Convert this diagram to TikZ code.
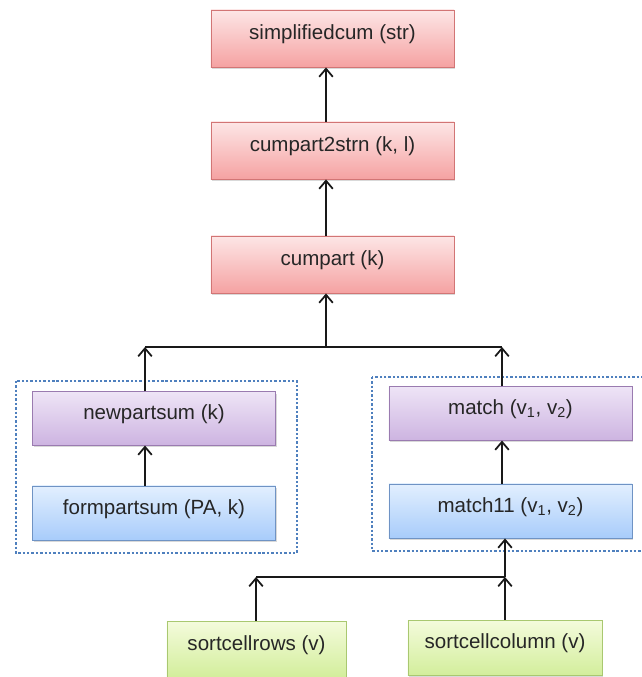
\documentclass[tikz,border=0pt]{standalone}
\usepackage{fontspec}
\setmainfont{Liberation Sans}
\usetikzlibrary{arrows.meta,shadows}
\definecolor{redtop}{HTML}{FDE6E6}
\definecolor{redbot}{HTML}{F5A2A2}
\definecolor{redline}{HTML}{D27575}
\definecolor{purtop}{HTML}{EEE4F6}
\definecolor{purbot}{HTML}{CDB4E1}
\definecolor{purline}{HTML}{9A7BB0}
\definecolor{blutop}{HTML}{E2EFFE}
\definecolor{blubot}{HTML}{A8CCFB}
\definecolor{bluline}{HTML}{6F93C4}
\definecolor{grntop}{HTML}{F4FBDC}
\definecolor{grnbot}{HTML}{D3EE9C}
\definecolor{grnline}{HTML}{A9C870}
\definecolor{dotblue}{HTML}{4F80BE}
\begin{document}
\begin{tikzpicture}[x=0.025cm,y=-0.025cm,
  box/.style={draw,line width=0.6pt,
    drop shadow={opacity=0.3,shadow xshift=0.8pt,shadow yshift=-1.2pt},
    minimum width=6.075cm,font=\fontsize{14.6}{17}\selectfont,
    text height=0.4cm,text depth=0.34cm,text=black!85},
  redbox/.style={box,draw=redline,top color=redtop,bottom color=redbot,minimum height=1.425cm},
  purbox/.style={box,draw=purline,top color=purtop,bottom color=purbot,minimum height=1.33cm},
  blubox/.style={box,draw=bluline,top color=blutop,bottom color=blubot,minimum height=1.35cm},
  grnbox/.style={box,draw=grnline,top color=grntop,bottom color=grnbot,minimum height=1.4cm},
  link/.style={line width=1.25pt,black!90},
  arrow/.style={link,-{Straight Barb[length=0.2cm,width=0.34cm]}},
  group/.style={draw=dotblue,line width=1.7pt,dash pattern=on 1.7pt off 1.4pt}]
\useasboundingbox (0,0) rectangle (642,677);

% groups
\draw[group] (16,381) rectangle (297,553);
\draw[group] (372,377) rectangle (652,551);

% functions
\node[redbox] (simp) at (332.5,38.5) {simplifiedcum (str)};
\node[redbox] (cum2) at (332.5,150.5) {cumpart2strn (k, l)};
\node[redbox] (cum) at (332.5,264.5) {cumpart (k)};
\node[purbox] (newps) at (154,418.5) {newpartsum (k)};
\node[blubox] (formps) at (154,513) {formpartsum (PA, k)};
\node[purbox] (match) at (510.5,413.5) {match (v\textsubscript{1}, v\textsubscript{2})};
\node[blubox] (match11) at (510.5,511) {match11 (v\textsubscript{1}, v\textsubscript{2})};
\node[grnbox,minimum width=4.475cm] (rows) at (256.5,649) {sortcellrows (v)};
\node[grnbox,minimum width=4.85cm,minimum height=1.375cm] (cols) at (505,647.5) {sortcellcolumn (v)};

% junctions
\coordinate (jm) at (326,347);
\coordinate (jl) at (145,347);
\coordinate (jr) at (502,347);
\coordinate (bl) at (256,577);
\coordinate (br) at (505,577);

\draw[link] (jl) -- (jr);
\draw[link] (bl) -- (br);

\draw[arrow] (cum2.north -| jm) -- (simp.south -| jm);
\draw[arrow] (cum.north -| jm) -- (cum2.south -| jm);
\draw[arrow] (jm) -- (jm |- cum.south);
\draw[arrow] (newps.north -| jl) -- (jl);
\draw[arrow] (formps.north -| jl) -- (newps.south -| jl);
\draw[arrow] (match.north -| jr) -- (jr);
\draw[arrow] (match11.north -| jr) -- (match.south -| jr);
\draw[arrow] (br) -- (br |- match11.south);
\draw[arrow] (rows.north -| bl) -- (bl);
\draw[arrow] (cols.north -| br) -- (br);

\end{tikzpicture}
\end{document}
